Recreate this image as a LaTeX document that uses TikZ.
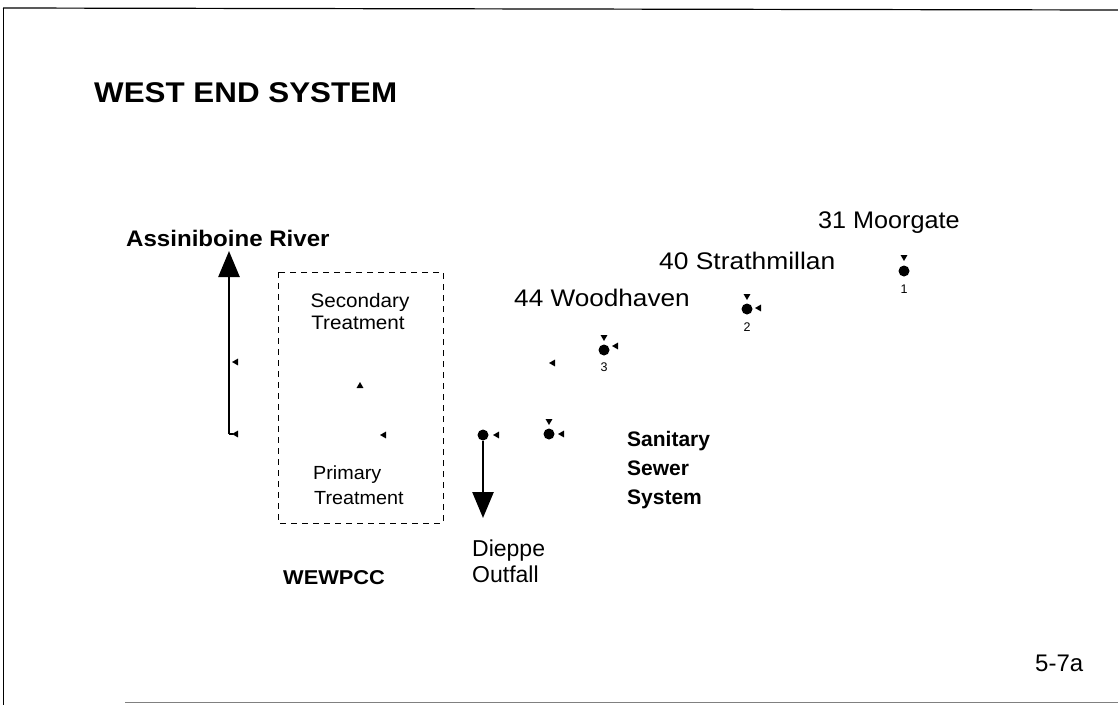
\documentclass[tikz,border=0pt]{standalone}
\usepackage{fontspec}
\setmainfont{Liberation Sans}
\usetikzlibrary{arrows.meta,shapes.geometric}
\begin{document}
\begin{tikzpicture}[x=1pt,y=-1pt,
  lbl/.style={inner sep=0pt,anchor=base west,align=left},
  dotnode/.style={circle,fill=black,inner sep=0pt,minimum size=11pt},
  tri/.style={regular polygon,regular polygon sides=3,fill=black,inner sep=0pt,minimum size=8pt},
  triL/.style={tri,shape border rotate=90},
  triD/.style={tri,shape border rotate=180},
  flow/.style={line width=2.6pt,-{Triangle[length=26pt,width=21pt]}},
  num/.style={inner sep=0pt,font=\fontsize{12.5}{14}\selectfont}
]
\useasboundingbox (0,0) rectangle (1118,705);
% frame
\draw[line width=1.2pt] (3,8) -- (1118,10);
\draw[line width=1pt] (3,8) -- (3,705);
\draw[line width=1pt,gray] (125,702) -- (1118,702);
% title
\node[lbl,font=\bfseries\fontsize{28.5}{30}\selectfont] (title) at (94,102) {\scalebox{1.1}[1]{WEST END SYSTEM}};
% labels
\node[lbl,font=\bfseries\fontsize{22.5}{24}\selectfont] (river) at (126,246) {\scalebox{1.07}[1]{Assiniboine River}};
\node[lbl,font=\fontsize{24}{26}\selectfont] (moor) at (818,228) {\scalebox{1.05}[1]{31 Moorgate}};
\node[lbl,font=\fontsize{24}{26}\selectfont] (strath) at (659,269) {\scalebox{1.1}[1]{40 Strathmillan}};
\node[lbl,font=\fontsize{24}{26}\selectfont] (wood) at (514,306) {\scalebox{1.09}[1]{44 Woodhaven}};
\node[lbl,font=\fontsize{19.5}{20}\selectfont,anchor=base] (sec) at (360,307) {\scalebox{1.06}[1]{Secondary}};
\node[lbl,font=\fontsize{19.5}{20}\selectfont,anchor=base] (sec2) at (358,329) {\scalebox{1.06}[1]{Treatment}};
\node[lbl,font=\fontsize{19}{20}\selectfont] (prim) at (313,479) {\scalebox{1.04}[1]{Primary}};
\node[lbl,font=\fontsize{19}{20}\selectfont] (prim2) at (314,504) {\scalebox{1.04}[1]{Treatment}};
\node[lbl,font=\bfseries\fontsize{20}{22}\selectfont] (wew) at (283,584) {\scalebox{1.09}[1]{WEWPCC}};
\node[lbl,font=\fontsize{23}{24}\selectfont] (diep) at (472,556) {Dieppe};
\node[lbl,font=\fontsize{23}{24}\selectfont] (diep2) at (472,582) {Outfall};
\node[lbl,font=\bfseries\fontsize{21}{25}\selectfont] (sss) at (627,446) {Sanitary};
\node[lbl,font=\bfseries\fontsize{21}{25}\selectfont] (sss2) at (627,475) {Sewer};
\node[lbl,font=\bfseries\fontsize{21}{25}\selectfont] (sss3) at (627,504) {System};
\node[lbl,font=\fontsize{24}{26}\selectfont] (fig) at (1035,671) {5-7a};
% plant box
\draw[line width=1pt,dash pattern=on 6pt off 5pt] (278,272) rectangle (443,523);
\node[tri] (t1) at (360,386) {};
\node[triL] (t2) at (384,435) {};
% river arrow
\coordinate (rb) at (229,434);
\coordinate (rt) at (229,251);
\draw[flow] (rb) -- (rt);
\coordinate (rbt) at (233,434);
\draw[line width=1.5pt] (rb) -- (rbt);
\node[triL] (t3) at (236,434) {};
\node[triL] (t4) at (236,362) {};
% Dieppe
\node[dotnode] (d0) at (483,435) {};
\coordinate (dt) at (483,518);
\draw[flow] (d0) -- (dt);
\node[triL] (t5) at (497,435) {};
% junction
\node[dotnode] (d4) at (549,434) {};
\node[triD] (t6) at (549,421) {};
\node[triL] (t7) at (562,434) {};
\node[triL] (t8) at (553,363) {};
% 3
\node[dotnode] (d3) at (604,350) {};
\node[triD] (t9) at (604,337) {};
\node[triL] (t10) at (616,346) {};
\node[num] (n3) at (604,367) {3};
% 2
\node[dotnode] (d2) at (747,309) {};
\node[triD] (t11) at (747,296) {};
\node[triL] (t12) at (759,308) {};
\node[num] (n2) at (747,327) {2};
% 1
\node[dotnode] (d1) at (904,271) {};
\node[triD] (t13) at (904,257) {};
\node[num] (n1) at (904,289) {1};
\end{tikzpicture}
\end{document}
